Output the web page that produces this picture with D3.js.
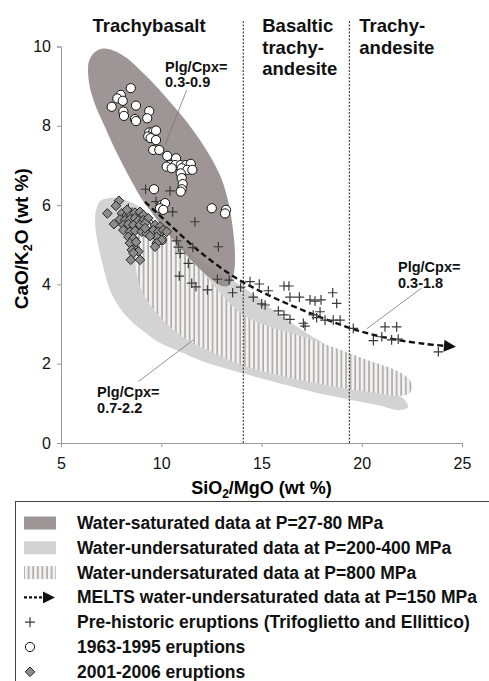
<!DOCTYPE html>
<html>
<head>
<meta charset="utf-8">
<script src="https://cdn.jsdelivr.net/npm/d3@7"></script>
<style>
    body {margin: 0; background: #fff;}
    text {font-family: "Liberation Sans", Arial, sans-serif;}
</style>
</head>
<body>
<div id="chart"></div>
<script>
// outlines of the experimental fields (SiO2/MgO, CaO/K2O)
const darkField = [[6.99,9.94],[6.65,9.84],[6.40,9.64],[6.35,9.36],[6.45,8.95],[6.75,8.47],[7.15,8.02],[7.54,7.57],[8.04,7.06],[8.54,6.58],[8.99,6.18],[9.54,5.80],[10.19,5.37],[10.94,4.92],[11.68,4.51],[12.43,4.16],[13.03,3.96],[13.38,3.98],[13.63,4.31],[13.68,4.74],[13.58,5.37],[13.38,6.00],[13.08,6.56],[12.63,7.06],[11.93,7.64],[11.19,8.15],[10.44,8.60],[9.69,9.03],[8.94,9.41],[8.19,9.74],[7.54,9.91]];

const lightField = [[7.44,6.18],[6.95,6.10],[6.75,5.88],[6.70,5.57],[6.80,5.12],[7.05,4.56],[7.44,3.86],[7.94,3.40],[8.59,3.03],[9.29,2.75],[9.94,2.52],[10.94,2.30],[11.93,2.09],[14.18,1.74],[16.42,1.44],[18.27,1.21],[20.76,0.96],[21.91,0.83],[22.31,0.91],[22.16,1.08],[21.66,1.26],[20.91,1.54],[20.16,1.82],[19.41,2.09],[18.42,2.42],[17.27,2.77],[16.42,3.05],[15.57,3.35],[14.83,3.66],[14.08,3.93],[13.28,4.19],[12.43,4.44],[11.58,4.72],[10.79,5.04],[10.09,5.35],[9.59,5.62],[9.09,5.88],[8.59,6.05],[8.04,6.15]];

const hatchField = [[8.54,5.57],[9.44,5.52],[10.19,5.37],[10.79,5.12],[11.93,4.41],[13.03,3.73],[14.08,3.23],[15.57,2.90],[17.27,2.65],[18.92,2.35],[20.56,2.04],[21.66,1.84],[22.31,1.64],[22.51,1.44],[22.36,1.24],[21.81,1.19],[20.76,1.26],[19.07,1.39],[17.42,1.54],[15.77,1.72],[14.18,1.94],[12.28,2.35],[11.09,2.67],[9.94,3.18],[9.09,3.78],[8.74,4.36],[8.59,4.99]];

// MELTS path
const melts = [[9.19,6.08],[10.44,5.50],[11.93,4.82],[13.73,4.16],[15.42,3.71],[16.92,3.38],[18.42,3.08],[19.91,2.82],[21.56,2.62],[23.15,2.50],[24.15,2.45]];

// samples
const prehistoric = [[9.22,6.40],[10.44,6.36],[9.74,6.09],[8.36,5.92],[10.57,5.83],[11.68,5.58],[12.85,4.95],[10.77,5.10],[10.85,4.94],[11.57,4.93],[10.94,4.78],[11.35,4.53],[10.90,4.21],[11.52,4.03],[11.73,3.94],[12.30,3.86],[12.80,4.13],[13.39,4.11],[13.56,3.79],[13.96,3.93],[14.43,4.07],[14.89,4.01],[15.34,3.84],[14.59,3.68],[15.01,3.51],[15.18,3.48],[16.12,3.96],[16.37,3.96],[16.42,3.68],[16.89,3.68],[17.42,3.61],[17.67,3.58],[17.97,3.61],[18.55,3.79],[18.75,3.52],[15.84,3.33],[16.12,3.23],[16.42,3.12],[17.09,3.02],[17.17,2.95],[17.58,3.23],[17.92,3.31],[17.75,3.16],[18.17,3.10],[18.58,3.10],[18.92,3.10],[19.58,2.89],[21.16,2.93],[21.74,2.93],[20.58,2.58],[21.00,2.68],[21.49,2.60],[21.82,2.62],[23.82,2.30]];

const eruptions6395 = [[8.48,8.95],[7.98,8.78],[7.81,8.69],[8.08,8.63],[7.53,8.48],[8.74,8.51],[9.40,8.37],[8.11,8.36],[8.14,8.25],[8.69,8.17],[8.74,8.12],[9.30,8.19],[9.40,7.83],[9.60,7.85],[9.74,7.88],[9.35,7.73],[9.47,7.69],[9.74,7.64],[9.60,7.39],[9.90,7.39],[10.30,7.24],[10.74,7.18],[10.44,7.01],[10.69,7.01],[10.97,7.01],[11.23,7.01],[11.47,7.04],[10.27,6.97],[10.52,6.93],[11.02,6.93],[11.30,6.89],[11.55,6.89],[10.97,6.80],[11.02,6.68],[11.07,6.53],[11.02,6.40],[9.64,6.40],[10.97,6.34],[10.02,6.00],[10.19,6.05],[9.94,5.92],[10.10,5.88],[12.52,5.92],[13.23,5.88],[13.18,5.79],[9.35,5.54],[10.02,5.12],[9.27,5.50]];

const eruptions0106 = [[7.89,6.11],[7.74,5.98],[7.31,5.79],[8.03,5.79],[8.28,5.75],[8.44,5.78],[8.69,5.81],[8.94,5.83],[9.11,5.75],[7.94,5.64],[8.19,5.62],[8.44,5.64],[8.69,5.67],[8.86,5.61],[9.11,5.62],[9.35,5.67],[7.64,5.52],[8.11,5.50],[8.36,5.52],[8.61,5.50],[8.94,5.50],[9.19,5.54],[9.69,5.50],[9.94,5.46],[8.11,5.37],[8.44,5.33],[8.69,5.35],[9.03,5.33],[9.27,5.29],[9.60,5.37],[9.85,5.33],[10.10,5.37],[10.27,5.33],[8.36,5.20],[8.61,5.16],[9.77,5.20],[10.02,5.12],[8.44,5.04],[9.77,5.04],[9.69,4.95],[8.69,4.91],[8.53,4.87],[8.86,4.83],[8.61,4.79],[8.94,4.62],[8.48,4.62],[8.29,5.88],[9.19,5.42],[9.44,5.22],[8.74,5.07]];

// field boundaries and names
const boundaries = [14.09, 19.38];
const xTicks = [5, 10, 15, 20, 25];
const yTicks = [0, 2, 4, 6, 8, 10];
const legendLabels = [
    "Water-saturated data at P=27-80 MPa",
    "Water-undersaturated data at P=200-400 MPa",
    "Water-undersaturated data at P=800 MPa",
    "MELTS water-undersaturated data at P=150 MPa",
    "Pre-historic eruptions (Trifoglietto and Ellittico)",
    "1963-1995 eruptions",
    "2001-2006 eruptions"
];
const plgNotes = [
    {lines: ["Plg/Cpx=", "0.3-0.9"], at: [10.19, 9.36], from: [11.27, 8.90], to: [10.19, 7.52]},
    {lines: ["Plg/Cpx=", "0.3-1.8"], at: [21.81, 4.31], from: [22.99, 3.91], to: [20.25, 2.88]},
    {lines: ["Plg/Cpx=", "0.7-2.2"], at: [6.80, 1.16], from: [8.86, 1.55], to: [11.60, 2.60]}
];

//SVG
const width = 489;
const height = 681;
const margin = {t: 46.5, b: 238, l: 61, r: 27};
const darkCol = "rgb(141,132,132)";
const lightCol = "#d3d3d3";

const svg = d3.select("#chart")
    .append("svg")
    .attr("width", width)
    .attr("height", height)
    .attr("viewBox", [0, 0, width, height])
    .style("background-color", "#fff");

const defs = svg.append("defs");
const hatch = defs.append("pattern")
    .attr("id", "hatch")
    .attr("patternUnits", "userSpaceOnUse")
    .attr("width", 4.6)
    .attr("height", 10);
hatch.append("rect").attr("width", 4.6).attr("height", 10).attr("fill", "#f2f2f2");
hatch.append("line")
    .attr("x1", 1).attr("x2", 1).attr("y1", 0).attr("y2", 10)
    .attr("stroke", "#8a8585").attr("stroke-width", 1.1);

defs.append("marker")
    .attr("id", "arrow")
    .attr("viewBox", "0 0 12 12")
    .attr("refX", 1)
    .attr("refY", 6)
    .attr("markerUnits", "userSpaceOnUse")
    .attr("markerWidth", 13)
    .attr("markerHeight", 12)
    .attr("orient", "auto")
    .append("path")
    .attr("d", "M0,0 L12,6 L0,12 Z")
    .attr("fill", "#111");

const xScale = d3.scaleLinear().domain([5, 25]).range([margin.l, width - margin.r]);
const yScale = d3.scaleLinear().domain([0, 10]).range([height - margin.b, margin.t]);

const area = d3.line()
    .curve(d3.curveCatmullRomClosed)
    .x(d => xScale(d[0]))
    .y(d => yScale(d[1]));

//fields
svg.append("path").attr("d", area(lightField)).attr("fill", lightCol);
svg.append("path").attr("d", area(hatchField)).attr("fill", "url(#hatch)");
svg.append("path").attr("d", area(darkField)).attr("fill", darkCol).attr("opacity", 0.85);

//axes
const x_axis = d3.axisBottom(xScale).tickValues(xTicks).tickSize(4).tickPadding(11);
const gx = svg.append("g")
    .attr("transform", `translate(0, ${yScale(0)})`)
    .call(x_axis);
const y_axis = d3.axisLeft(yScale).tickValues(yTicks).tickSize(4).tickPadding(6);
const gy = svg.append("g")
    .attr("transform", `translate(${margin.l}, 0)`)
    .call(y_axis);
[gx, gy].forEach(g => {
    g.select(".domain").attr("stroke", "#999");
    g.selectAll(".tick line").attr("stroke", "#999");
    g.selectAll(".tick text")
        .attr("fill", "#111")
        .style("font-family", "Liberation Sans, Arial, sans-serif")
        .style("font-size", "16px");
});

//axis titles
const xt = svg.append("text")
    .attr("x", (xScale(5) + xScale(25)) / 2)
    .attr("y", 494)
    .attr("text-anchor", "middle")
    .attr("font-weight", "bold")
    .attr("font-size", "18px");
xt.append("tspan").text("SiO");
xt.append("tspan").attr("font-size", "12px").attr("dy", 4).text("2");
xt.append("tspan").attr("dy", -4).text("/MgO (wt %)");

const yt = svg.append("text")
    .attr("transform", `translate(28, ${yScale(5) - 6}) rotate(-90)`)
    .attr("text-anchor", "middle")
    .attr("font-weight", "bold")
    .attr("font-size", "19px");
yt.append("tspan").text("CaO/K");
yt.append("tspan").attr("font-size", "12.5px").attr("dy", 4).text("2");
yt.append("tspan").attr("dy", -4).text("O (wt %)");

//field boundaries
boundaries.forEach(b => {
    svg.append("line")
        .attr("x1", xScale(b)).attr("x2", xScale(b))
        .attr("y1", 21).attr("y2", yScale(0))
        .attr("stroke", "#222")
        .attr("stroke-width", 1)
        .attr("stroke-dasharray", "2,1.5");
});

//rock names
const names = [
    {x: 149, anchor: "middle", lines: ["Trachybasalt"]},
    {x: xScale(boundaries[0]) + 19, anchor: "start", lines: ["Basaltic", "trachy-", "andesite"]},
    {x: xScale(boundaries[1]) + 10, anchor: "start", lines: ["Trachy-", "andesite"]}
];
names.forEach(n => {
    n.lines.forEach((l, i) => {
        svg.append("text")
            .attr("x", n.x)
            .attr("y", 32 + i * 21.5)
            .attr("text-anchor", n.anchor)
            .attr("font-weight", "bold")
            .attr("font-size", "18.5px")
            .attr("fill", "#111")
            .text(l);
    });
});

//MELTS line
svg.append("path")
    .attr("d", d3.line().curve(d3.curveCatmullRom).x(d => xScale(d[0])).y(d => yScale(d[1]))(melts))
    .attr("fill", "none")
    .attr("stroke", "#111")
    .attr("stroke-width", 2.4)
    .attr("stroke-dasharray", "6,3.5")
    .attr("marker-end", "url(#arrow)");

//Plg/Cpx notes
plgNotes.forEach(n => {
    svg.append("line")
        .attr("x1", xScale(n.from[0])).attr("y1", yScale(n.from[1]))
        .attr("x2", xScale(n.to[0])).attr("y2", yScale(n.to[1]))
        .attr("stroke", "#777")
        .attr("stroke-width", 0.8);
    n.lines.forEach((l, i) => {
        svg.append("text")
            .attr("x", xScale(n.at[0]))
            .attr("y", yScale(n.at[1]) + i * 15.5)
            .attr("font-weight", "bold")
            .attr("font-size", "14.5px")
            .attr("fill", "#111")
            .text(l);
    });
});

//symbols
function cross(g, cx, cy, s) {
    g.append("path")
        .attr("d", `M${cx - s},${cy} H${cx + s} M${cx},${cy - s} V${cy + s}`)
        .attr("stroke", "#3a3a3a")
        .attr("stroke-width", 1.2)
        .attr("fill", "none");
}
function circle(g, cx, cy) {
    g.append("circle")
        .attr("cx", cx).attr("cy", cy).attr("r", 4.6)
        .attr("fill", "#fff")
        .attr("stroke", "#111")
        .attr("stroke-width", 1);
}
function diamond(g, cx, cy) {
    g.append("path")
        .attr("d", `M${cx},${cy - 4.8} L${cx + 4.8},${cy} L${cx},${cy + 4.8} L${cx - 4.8},${cy} Z`)
        .attr("fill", "#8c8c8c")
        .attr("stroke", "#222")
        .attr("stroke-width", 1);
}

const pts = svg.append("g");
prehistoric.forEach(d => cross(pts, xScale(d[0]), yScale(d[1]), 4.8));
eruptions6395.forEach(d => circle(pts, xScale(d[0]), yScale(d[1])));
eruptions0106.forEach(d => diamond(pts, xScale(d[0]), yScale(d[1])));

//Legend
const leg = svg.append("g");
leg.append("rect")
    .attr("x", 15.5).attr("y", 501.5)
    .attr("width", 500).attr("height", 200)
    .attr("fill", "none")
    .attr("stroke", "#444")
    .attr("stroke-width", 1);

const rowY = i => 523 + i * 24.8;
legendLabels.forEach((l, i) => {
    leg.append("text")
        .attr("x", 77)
        .attr("y", rowY(i) + 6)
        .attr("font-weight", "bold")
        .attr("font-size", "17.5px")
        .attr("fill", "#111")
        .text(l);
});
leg.append("rect").attr("x", 24).attr("y", rowY(0) - 6.5).attr("width", 32).attr("height", 13)
    .attr("fill", darkCol).attr("opacity", 0.85);
leg.append("rect").attr("x", 24).attr("y", rowY(1) - 6.5).attr("width", 32).attr("height", 13)
    .attr("fill", lightCol);
leg.append("rect").attr("x", 24).attr("y", rowY(2) - 6.5).attr("width", 32).attr("height", 13)
    .attr("fill", "url(#hatch)");
leg.append("line")
    .attr("x1", 24).attr("x2", 44).attr("y1", rowY(3)).attr("y2", rowY(3))
    .attr("stroke", "#111").attr("stroke-width", 2.2).attr("stroke-dasharray", "3,2")
    .attr("marker-end", "url(#arrow)");
cross(leg, 30, rowY(4), 5);
circle(leg, 30, rowY(5));
diamond(leg, 30, rowY(6));
</script>
</body>
</html>
